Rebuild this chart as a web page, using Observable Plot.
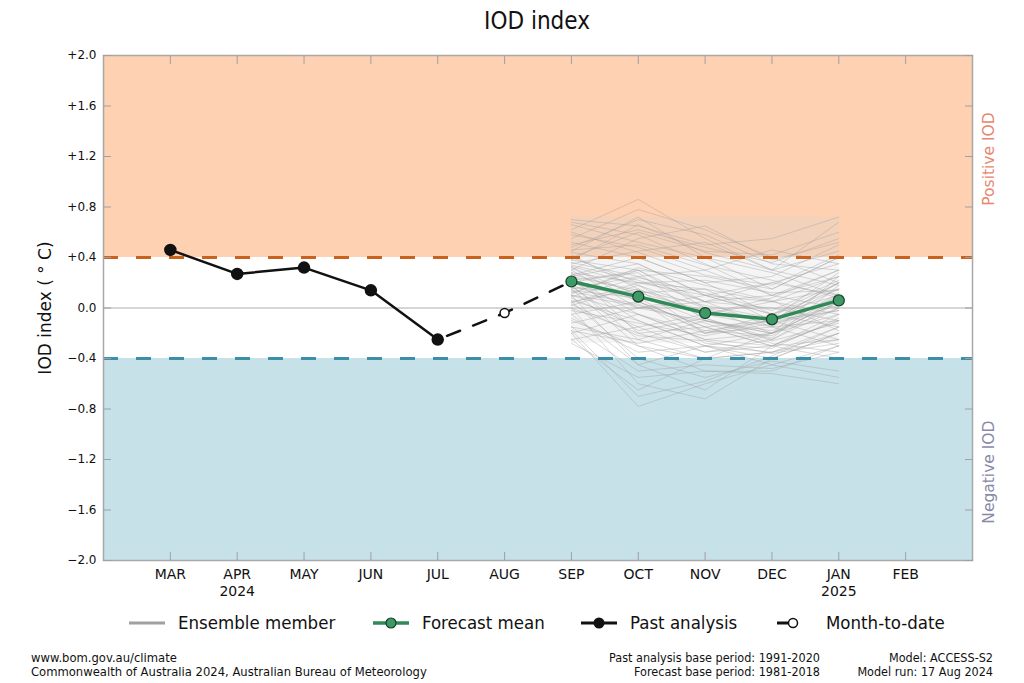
<!DOCTYPE html>
<html>
<head>
<meta charset="utf-8">
<script src="https://cdn.jsdelivr.net/npm/d3@7"></script>
<script src="https://cdn.jsdelivr.net/npm/@observablehq/plot@0.6"></script>
<style>
  body { margin: 0; background: #fff; }
  #wrap { position: relative; width: 1024px; height: 683px; overflow: hidden; font-family: "DejaVu Sans", sans-serif; color: #111; }
  #chart { position: absolute; left: 0; top: 0; }
  #title { position: absolute; top: 7px; left: 0; width: 1074px; text-align: center; font-family: "DejaVu Sans Condensed", "DejaVu Sans", sans-serif; font-size: 24px; }
  #legend { position: absolute; top: 612px; left: 0; width: 1024px; height: 26px; font-family: "DejaVu Sans Condensed", "DejaVu Sans", sans-serif; font-size: 18.5px; }
  .leg { position: absolute; top: 0; display: flex; align-items: center; }
  .leg svg { margin-right: 12px; }
  .foot { position: absolute; line-height: 14px; }
  .cond { font-family: "DejaVu Sans Condensed", "DejaVu Sans", sans-serif; font-size: 12.5px; }
</style>
</head>
<body>
<div id="wrap">
  <div id="title">IOD index</div>
  <div id="chart"></div>
  <div id="legend"></div>
  <div class="foot" style="left:31px; top:651px; font-size:11.6px;">www.bom.gov.au/climate<br>Commonwealth of Australia 2024, Australian Bureau of Meteorology</div>
  <div class="foot cond" style="right:204px; top:651px; text-align:right;">Past analysis base period: 1991-2020<br>Forecast base period: 1981-2018</div>
  <div class="foot cond" style="right:31px; top:651px; text-align:right;">Model: ACCESS-S2<br>Model run: 17 Aug 2024</div>
</div>
<script>
// ---------- data ----------
const months = ["MAR","APR","MAY","JUN","JUL","AUG","SEP","OCT","NOV","DEC","JAN","FEB"];
const monthLabels = ["MAR","APR\n2024","MAY","JUN","JUL","AUG","SEP","OCT","NOV","DEC","JAN\n2025","FEB"];
const yTicks = [-2.0,-1.6,-1.2,-0.8,-0.4,0.0,0.4,0.8,1.2,1.6,2.0];
const yLabel = "IOD index ( \u00b0 C)";

const positiveThreshold = 0.4;
const negativeThreshold = -0.4;

const pastMonths = ["MAR","APR","MAY","JUN","JUL"];
const pastValues = [0.46, 0.27, 0.32, 0.14, -0.25];

const mtdLineMonths = ["JUL","AUG","SEP"];
const mtdLineValues = [-0.25, -0.04, 0.21];
const mtdMonth = "AUG";
const mtdValue = -0.04;

const forecastMonths = ["SEP","OCT","NOV","DEC","JAN"];
const forecastMean = [0.21, 0.09, -0.04, -0.09, 0.06];

// ensemble spread band (SEP..JAN)
const bandLow = -0.28, bandHigh = 0.72;

// ensemble members: values for SEP, OCT, NOV, DEC, JAN
const ensembleMembers = [
  [0.62, 0.86, 0.55, 0.30, 0.45],
  [0.55, 0.78, 0.62, 0.40, 0.20],
  [0.70, 0.65, 0.50, 0.55, 0.72],
  [0.48, 0.70, 0.58, 0.35, 0.30],
  [0.40, 0.60, 0.45, 0.42, 0.60],
  [0.66, 0.52, 0.40, 0.28, 0.10],
  [0.30, 0.55, 0.65, 0.38, 0.52],
  [0.58, 0.48, 0.30, 0.46, 0.35],
  [0.45, 0.72, 0.40, 0.15, 0.40],
  [0.35, 0.45, 0.52, 0.30, 0.68],
  [0.52, 0.40, 0.20, 0.25, 0.50],
  [0.68, 0.58, 0.35, 0.10, 0.25],
  [0.25, 0.35, 0.10, -0.05, 0.20],
  [0.20, 0.10, -0.10, -0.20, 0.05],
  [0.15, 0.25, 0.05, 0.10, 0.30],
  [0.32, 0.05, -0.15, -0.10, 0.15],
  [0.10, -0.05, -0.25, -0.30, -0.10],
  [0.28, 0.20, 0.15, 0.05, -0.05],
  [0.05, 0.15, -0.05, -0.15, 0.10],
  [0.38, 0.30, 0.00, -0.20, 0.25],
  [0.22, -0.10, -0.30, -0.35, -0.20],
  [0.12, 0.30, 0.25, 0.15, 0.40],
  [0.00, -0.20, -0.35, -0.25, 0.00],
  [0.18, 0.00, 0.10, -0.05, -0.15],
  [0.42, 0.15, -0.20, -0.10, 0.20],
  [-0.05, 0.05, -0.15, -0.30, -0.25],
  [0.26, 0.40, 0.20, -0.05, 0.10],
  [0.08, -0.15, -0.05, 0.05, 0.15],
  [0.34, 0.22, 0.05, 0.20, 0.35],
  [-0.10, -0.30, -0.40, -0.35, -0.15],
  [0.14, 0.08, -0.20, -0.15, -0.30],
  [0.30, 0.00, -0.10, -0.25, 0.05],
  [0.02, 0.18, 0.00, -0.10, 0.20],
  [0.24, -0.05, -0.25, -0.20, -0.05],
  [-0.15, -0.25, -0.10, -0.20, 0.10],
  [0.36, 0.25, 0.30, 0.10, 0.00],
  [0.06, -0.10, -0.30, -0.40, -0.20],
  [0.20, 0.30, 0.05, 0.00, -0.10],
  [-0.20, -0.05, -0.20, -0.05, 0.15],
  [0.16, 0.12, 0.15, -0.10, -0.25],
  [0.44, 0.35, 0.10, 0.05, 0.25],
  [-0.08, -0.35, -0.30, -0.20, 0.05],
  [0.10, 0.02, -0.12, -0.28, -0.35],
  [0.28, -0.20, -0.15, -0.30, -0.05],
  [-0.25, -0.15, -0.35, -0.30, -0.40],
  [0.04, 0.20, 0.10, 0.20, 0.10],
  [0.18, -0.25, -0.40, -0.20, 0.00],
  [0.32, 0.10, -0.05, 0.08, 0.30],
  [-0.12, 0.00, 0.05, -0.15, -0.10],
  [0.22, 0.28, -0.10, -0.18, 0.12],
  [0.50, 0.62, 0.48, 0.36, 0.55],
  [0.60, 0.44, 0.26, 0.18, 0.42],
  [0.46, 0.50, 0.34, 0.22, 0.08],
  [0.38, 0.66, 0.44, 0.30, 0.18],
  [0.27, 0.12, -0.02, -0.12, -0.02],
  [0.13, 0.03, -0.18, -0.22, 0.08],
  [0.33, 0.18, -0.08, -0.26, -0.12],
  [0.09, 0.24, 0.12, -0.02, 0.22],
  [-0.02, -0.12, -0.22, -0.12, 0.02],
  [0.21, 0.06, -0.28, -0.32, -0.08],
  [0.17, -0.18, -0.08, -0.24, 0.18],
  [0.40, 0.20, 0.22, 0.12, 0.14],
  [0.03, -0.22, -0.26, -0.36, -0.28],
  [0.25, 0.14, 0.02, -0.08, 0.28],
  [-0.18, -0.28, -0.18, -0.10, -0.02],
  [0.11, 0.32, 0.18, 0.06, -0.18],
  [-0.20, -0.78, -0.60, -0.45, -0.30],
  [0.00, -0.60, -0.72, -0.40, -0.20],
  [-0.28, -0.55, -0.50, -0.52, -0.60],
  [0.10, -0.45, -0.65, -0.30, -0.10],
  [-0.15, -0.50, -0.45, -0.48, -0.35],
  [0.05, -0.40, -0.55, -0.42, -0.50],
  [-0.25, -0.65, -0.40, -0.35, -0.25],
  [0.15, -0.30, -0.50, -0.50, -0.30],
  [-0.05, -0.45, -0.30, -0.45, -0.55],
  [-0.18, -0.70, -0.58, -0.38, -0.15]
];

const sideLabels = [
  {label: "Positive IOD", y: 1.18, color: "#e8866e"},
  {label: "Negative IOD", y: -1.30, color: "#8888a8"}
];

// ---------- build tables ----------
const mi = m => months.indexOf(m);
const past = pastMonths.map((m, i) => ({x: mi(m), y: pastValues[i]}));
const mtdLine = mtdLineMonths.map((m, i) => ({x: mi(m), y: mtdLineValues[i]}));
const forecast = forecastMonths.map((m, i) => ({x: mi(m), y: forecastMean[i]}));
const ensemble = ensembleMembers.flatMap((vals, k) => vals.map((v, i) => ({member: k, x: mi(forecastMonths[i]), y: v})));
const regions = [
  {y1: positiveThreshold, y2: 2.0, fill: "#fdd1b2"},
  {y1: -2.0, y2: negativeThreshold, fill: "#c6e1e8"}
];
const band = [{x1: mi(forecastMonths[0]), x2: mi(forecastMonths[forecastMonths.length-1]), y1: bandLow, y2: bandHigh}];
const monthIdx = months.map((m, i) => i);
const fmtY = v => Math.abs(v) < 1e-9 ? "0.0" : (v > 0 ? "+" : "\u2212") + Math.abs(v).toFixed(1);

const plot = Plot.plot({
  width: 1024,
  height: 600,
  marginLeft: 103,
  marginRight: 52,
  marginTop: 55,
  marginBottom: 40,
  style: {fontFamily: "DejaVu Sans, sans-serif", fontSize: "12px", color: "#111", background: "transparent"},
  x: {domain: [-1, 12]},
  y: {domain: [-2, 2]},
  marks: [
    Plot.rect(regions, {y1: "y1", y2: "y2", fill: "fill"}),
    Plot.ruleY([0], {stroke: "#c8c8c8", strokeWidth: 1.5}),
    Plot.rect(band, {x1: "x1", x2: "x2", y1: "y1", y2: "y2", fill: "#d8d8d8", fillOpacity: 0.25}),
    Plot.line(ensemble, {x: "x", y: "y", z: "member", stroke: "#a0a0a0", strokeWidth: 1, strokeOpacity: 0.4}),
    Plot.ruleY([positiveThreshold], {stroke: "#c8621e", strokeWidth: 3, strokeDasharray: "15,18"}),
    Plot.ruleY([negativeThreshold], {stroke: "#3b8fa9", strokeWidth: 3, strokeDasharray: "15,18"}),
    Plot.line(mtdLine, {x: "x", y: "y", stroke: "#111", strokeWidth: 2.5, strokeDasharray: "14,14", strokeDashoffset: -10}),
    Plot.line(past, {x: "x", y: "y", stroke: "#111", strokeWidth: 2.5}),
    Plot.dot(past, {x: "x", y: "y", r: 5.5, fill: "#111", stroke: "#111"}),
    Plot.dot([{x: mi(mtdMonth), y: mtdValue}], {x: "x", y: "y", r: 4.5, fill: "#fff", stroke: "#111", strokeWidth: 1.5}),
    Plot.line(forecast, {x: "x", y: "y", stroke: "#2f8a58", strokeWidth: 3.5}),
    Plot.dot(forecast, {x: "x", y: "y", r: 5.5, fill: "#3d9a66", stroke: "#173d26", strokeWidth: 1.2}),
    Plot.frame({stroke: "#a8a8a8", strokeWidth: 1.5}),
    Plot.axisX({anchor: "bottom", ticks: monthIdx, tickSize: -8, tickPadding: 15, stroke: "#a0a0a0", fontSize: 14, lineHeight: 1.2, tickFormat: i => monthLabels[i], label: null}),
    Plot.axisX({anchor: "top", ticks: monthIdx, tickSize: -8, stroke: "#a0a0a0", tickFormat: () => "", label: null}),
    Plot.axisY({anchor: "left", ticks: yTicks, tickSize: -8, tickPadding: 15, stroke: "#a0a0a0", tickFormat: fmtY, label: null}),
    Plot.axisY({anchor: "right", ticks: yTicks, tickSize: -8, stroke: "#a0a0a0", tickFormat: () => "", label: null}),
    Plot.text([yLabel], {frameAnchor: "left", textAnchor: "middle", dx: -58, rotate: -90, fontSize: 17, fill: "#111"}),
    Plot.text(sideLabels, {x: 12, y: "y", text: "label", fill: "color", rotate: -90, dx: 17, fontSize: 15.5})
  ]
});
document.getElementById("chart").appendChild(plot);

// ---------- legend ----------
const legendItems = [
  {left: 128, label: "Ensemble member", kind: "ens"},
  {left: 372, label: "Forecast mean", kind: "fc"},
  {left: 580, label: "Past analysis", kind: "past"},
  {left: 776, label: "Month-to-date", kind: "mtd"}
];
const leg = document.getElementById("legend");
for (const it of legendItems) {
  const d = document.createElement("div");
  d.className = "leg";
  d.style.left = it.left + "px";
  let sw = "";
  if (it.kind === "ens") sw = '<svg width="38" height="20"><line x1="1" y1="10" x2="37" y2="10" stroke="#a0a0a0" stroke-width="3"/></svg>';
  if (it.kind === "fc") sw = '<svg width="38" height="20"><line x1="1" y1="10" x2="37" y2="10" stroke="#2f8a58" stroke-width="3.5"/><circle cx="19" cy="10" r="5" fill="#3d9a66" stroke="#173d26" stroke-width="1.2"/></svg>';
  if (it.kind === "past") sw = '<svg width="38" height="20"><line x1="1" y1="10" x2="37" y2="10" stroke="#111" stroke-width="3"/><circle cx="19" cy="10" r="5.5" fill="#111"/></svg>';
  if (it.kind === "mtd") sw = '<svg width="38" height="20"><line x1="1" y1="10" x2="12" y2="10" stroke="#111" stroke-width="3"/><circle cx="17" cy="10" r="4.5" fill="#fff" stroke="#111" stroke-width="1.5"/></svg>';
  d.innerHTML = sw + '<span>' + it.label + '</span>';
  leg.appendChild(d);
}
</script>
</body>
</html>
